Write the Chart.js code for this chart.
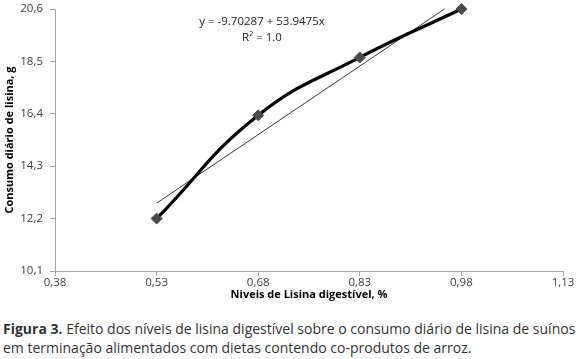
<!DOCTYPE html>
<html>
<head>
<meta charset="utf-8">
<script src="https://cdn.jsdelivr.net/npm/chart.js@4/dist/chart.umd.min.js"></script>
<style>
  html, body { margin: 0; padding: 0; background: #fff; }
  #wrap { position: relative; width: 578px; height: 359px; overflow: hidden; }
  #c { position: absolute; left: 0; top: 0; }
  #eq { position: absolute; left: 162px; top: 13px; width: 200px; text-align: center;
        font-family: "Open Sans", sans-serif; font-size: 11.5px; line-height: 16px; color: #222; }
  #cap { position: absolute; left: 3px; top: 319px; width: 590px;
         font-family: "Open Sans", sans-serif; font-size: 14px; line-height: 19px; color: #333; white-space: nowrap; }
  #cap b { font-weight: 700; }
</style>
</head>
<body>
<div id="wrap">
  <canvas id="c" width="578" height="305"></canvas>
  <div id="eq">y = -9.70287 + 53.9475x<br>R² = 1.0</div>
  <div id="cap"><b>Figura 3.</b> Efeito dos níveis de lisina digestível sobre o consumo diário de lisina de suínos<br>em terminação alimentados com dietas contendo co-produtos de arroz.</div>
</div>
<script>
const lisinaLevels = [0.53, 0.68, 0.83, 0.98];
const consumoDiario = [12.2, 16.34, 18.66, 20.6];
const trendX = [0.53, 0.955];
const trendY = [12.82, 20.6];
const xTicks = [0.38, 0.53, 0.68, 0.83, 0.98, 1.13];
const yTicks = [10.1, 12.2, 14.3, 16.4, 18.5, 20.6];

const tickFont = { family: "Open Sans", size: 11.5 };
const titleFont = { family: "Open Sans", size: 11, weight: 'bold' };
const axisGrey = '#a6a6a6';

new Chart(document.getElementById('c'), {
  type: 'scatter',
  data: {
    datasets: [
      {
        label: 'Tendência',
        data: trendX.map((x, i) => ({ x: x, y: trendY[i] })),
        showLine: true,
        borderColor: '#3a3a3a',
        borderWidth: 1,
        pointRadius: 0,
        fill: false,
        clip: false,
        order: 2
      },
      {
        label: 'Consumo',
        data: lisinaLevels.map((x, i) => ({ x: x, y: consumoDiario[i] })),
        showLine: true,
        borderColor: '#000',
        borderWidth: 3.2,
        tension: 0.45,
        pointStyle: 'rectRot',
        pointRadius: 5.5,
        pointBackgroundColor: '#4a4a4a',
        pointBorderColor: '#4a4a4a',
        pointBorderWidth: 1,
        fill: false,
        clip: false,
        order: 1
      }
    ]
  },
  options: {
    responsive: false,
    animation: false,
    events: [],
    layout: { padding: { top: 9, right: 15, left: 0, bottom: 0 } },
    plugins: { legend: { display: false }, tooltip: { enabled: false } },
    scales: {
      x: {
        type: 'linear',
        min: 0.38, max: 1.13,
        afterBuildTicks: s => { s.ticks = xTicks.map(v => ({ value: v })); },
        afterFit: s => { s.height = 34; s.paddingLeft = 0; s.paddingRight = 0; },
        grid: { drawOnChartArea: false, drawTicks: true, tickLength: 5, color: axisGrey },
        border: { color: axisGrey, width: 1 },
        ticks: {
          font: tickFont, color: '#404040', padding: 0, maxRotation: 0,
          callback: v => v.toFixed(2).replace('.', ',')
        },
        title: {
          display: true, text: 'Niveis de Lisina digestível, %',
          font: titleFont, color: '#000', padding: { top: 0, bottom: 4 }
        }
      },
      y: {
        type: 'linear',
        min: 10.1, max: 20.6,
        afterBuildTicks: s => { s.ticks = yTicks.map(v => ({ value: v })); },
        afterFit: s => { s.width = 55; s.paddingTop = 0; s.paddingBottom = 0; },
        grid: { drawOnChartArea: false, drawTicks: true, tickLength: 5, color: axisGrey },
        border: { color: axisGrey, width: 1 },
        ticks: {
          font: tickFont, color: '#404040', padding: 7,
          callback: v => v.toFixed(1).replace('.', ',')
        },
        title: {
          display: true, text: 'Consumo diário de lisina, g',
          font: titleFont, color: '#000', padding: { top: 3, bottom: 0 }
        }
      }
    }
  }
});
</script>
</body>
</html>
